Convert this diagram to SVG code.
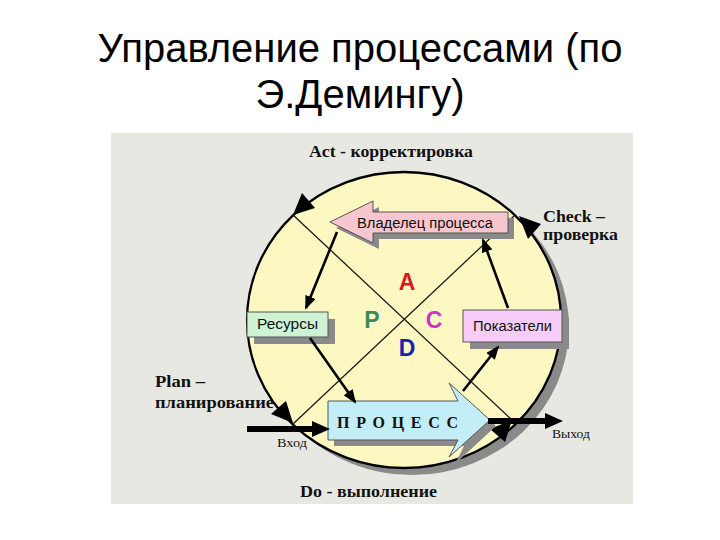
<svg xmlns="http://www.w3.org/2000/svg" width="720" height="540" viewBox="0 0 720 540">
<defs>
<style>
.title{font-family:"Liberation Sans",Arial,sans-serif;font-size:40px;fill:#000;text-anchor:middle}
.lbl{font-family:"Liberation Serif","Times New Roman",serif;font-weight:bold;font-size:16px;fill:#111}
.sm{font-family:"Liberation Serif","Times New Roman",serif;font-size:13px;fill:#111}
.box{font-family:"Liberation Sans",Arial,sans-serif;font-size:14px;fill:#111}
.big{font-family:"Liberation Sans",Arial,sans-serif;font-weight:bold;font-size:23px;text-anchor:middle}
.shadow{fill:#8a8a8a}
.edge{stroke:#555;stroke-width:1}
.thin{stroke:#1a1a1a;stroke-width:1.3;fill:none}
.thick{stroke:#000;stroke-width:2.6;fill:none;marker-end:url(#ah)}
.fat{stroke:#000;stroke-width:6;fill:none}
</style>
<marker id="ah" markerUnits="userSpaceOnUse" markerWidth="14" markerHeight="11" refX="12" refY="5.5" orient="auto">
<path d="M0,0 L14,5.5 L0,11 z" fill="#000"/>
</marker>
</defs>

<g id="title">
<text class="title" x="360" y="62">Управление процессами (по</text>
<text class="title" x="360" y="108">Э.Демингу)</text>
</g>

<rect x="111" y="133" width="522" height="371" fill="#e8e8e2"/>

<g id="cycle">
<ellipse cx="412" cy="327" rx="157" ry="148" class="shadow"/>
<ellipse cx="404" cy="320" rx="157" ry="148" fill="#fdf8c2" stroke="#000" stroke-width="2.3"/>
</g>

<g id="connectors">
<line class="thin" x1="293" y1="215" x2="512" y2="420"/>
<line class="thin" x1="293" y1="424" x2="515" y2="215"/>
<polygon points="293,215 315,208 302,193" fill="#000"/>
<polygon points="519,216 541,224 528,239" fill="#000"/>
<polygon points="293,423 286,401 271,414" fill="#000"/>
<polygon points="512,420 505,442 490,429" fill="#000"/>
</g>

<g id="owner">
<polygon points="336,228 379,207 379,218 514,218 514,239 379,239 379,249" class="shadow"/>
<polygon points="330,222 373,201 373,212 508,212 508,233 373,233 373,243" fill="#f7c6ce" class="edge"/>
<text class="box" x="357" y="228" textLength="136" lengthAdjust="spacingAndGlyphs">Владелец процесса</text>
</g>

<g id="resources">
<rect x="254" y="319" width="81" height="25" class="shadow"/>
<rect x="247" y="312" width="81" height="25" fill="#cdf3d3" class="edge"/>
<text class="box" x="257" y="329" textLength="61" lengthAdjust="spacingAndGlyphs">Ресурсы</text>
</g>

<g id="indicators">
<rect x="470" y="317" width="99" height="32" class="shadow"/>
<rect x="463" y="310" width="99" height="32" fill="#f8ccf8" class="edge"/>
<text class="box" x="473" y="331" textLength="79" lengthAdjust="spacingAndGlyphs">Показатели</text>
</g>

<g id="process">
<polygon points="334,407 464,407 455,389 496,426 455,464 464,446 334,446" class="shadow"/>
<polygon points="328,401 458,401 449,383 490,420 449,457 458,440 328,440" fill="#c4eef7" class="edge"/>
<text class="lbl" x="337" y="428" font-size="20" textLength="121" lengthAdjust="spacing" fill="#1a2535">П Р О Ц Е С С</text>
</g>

<g id="letters">
<text class="big" x="407" y="290" fill="#dd1515">A</text>
<text class="big" x="372" y="328" fill="#3a8a5a">P</text>
<text class="big" x="434" y="328" fill="#cc33cc">C</text>
<text class="big" x="407" y="356" fill="#1a22b0">D</text>
</g>

<g id="flows">
<line class="thick" x1="337" y1="232" x2="306" y2="308"/>
<line class="thick" x1="310" y1="338" x2="355" y2="402"/>
<line class="thick" x1="463" y1="391" x2="498" y2="347"/>
<line class="thick" x1="508" y1="308" x2="483" y2="240"/>
<line class="fat" x1="247" y1="429" x2="316" y2="429"/>
<polygon points="312,421 330,429 312,437" fill="#000"/>
<line class="fat" x1="488" y1="421" x2="549" y2="421"/>
<polygon points="545,413 563,421 545,429" fill="#000"/>
</g>

<g id="labels">
<text class="lbl" x="309" y="157" textLength="164" lengthAdjust="spacingAndGlyphs">Act - корректировка</text>
<text class="lbl" x="543" y="222" textLength="62" lengthAdjust="spacingAndGlyphs">Check –</text>
<text class="lbl" x="543" y="240" textLength="75" lengthAdjust="spacingAndGlyphs">проверка</text>
<text class="lbl" x="155" y="387" textLength="50" lengthAdjust="spacingAndGlyphs">Plan –</text>
<text class="lbl" x="155" y="408" textLength="119" lengthAdjust="spacingAndGlyphs">планирование</text>
<text class="lbl" x="300" y="497" textLength="137" lengthAdjust="spacingAndGlyphs">Do - выполнение</text>
<text class="sm" x="277" y="447" textLength="30" lengthAdjust="spacingAndGlyphs">Вход</text>
<text class="sm" x="552" y="438" textLength="38" lengthAdjust="spacingAndGlyphs">Выход</text>
</g>
</svg>
